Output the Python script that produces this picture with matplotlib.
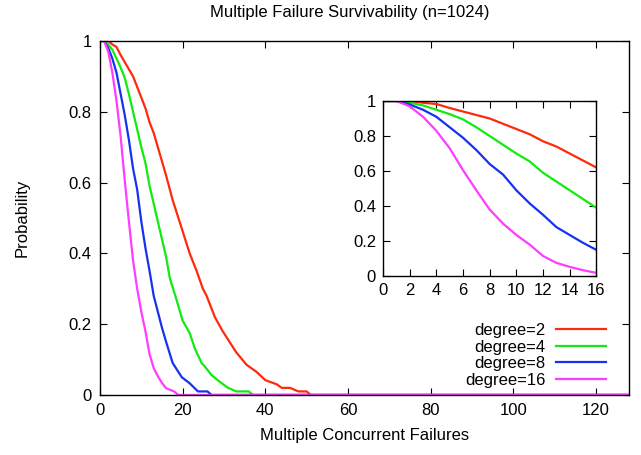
import matplotlib
matplotlib.use("Agg")
import matplotlib.pyplot as plt

plt.rcParams['font.family'] = ['Liberation Sans', 'DejaVu Sans']

# failures (x) and survival probability per degree
x_deg2 = [0, 1, 2, 3, 4, 5, 6, 7, 8, 9, 10, 11, 12, 13, 14, 15, 16,
          17.6, 19.8, 21.7, 23.4, 24.9, 25.8, 27.8, 29.7, 33, 35.5, 37.9,
          40, 41.6, 42.8, 44, 46, 48, 50, 51, 128]
p_deg2 = [1, 1, 1, 0.99, 0.983, 0.96, 0.94, 0.92, 0.90, 0.87, 0.84, 0.81,
          0.77, 0.74, 0.70, 0.66, 0.62,
          0.55, 0.47, 0.40, 0.35, 0.30, 0.28, 0.22, 0.18, 0.12, 0.085, 0.065,
          0.042, 0.035, 0.03, 0.02, 0.02, 0.01, 0.01, 0, 0]

x_deg4 = [0, 1, 2, 3, 4, 5, 6, 7, 8, 9, 10, 11, 12, 13, 14, 15, 16,
          16.9, 18.5, 20, 21.7, 23, 24.6, 25.4, 27, 29, 31, 33, 36, 37, 128]
p_deg4 = [1, 1, 0.99, 0.975, 0.95, 0.925, 0.895, 0.85, 0.80, 0.75, 0.70,
          0.655, 0.59, 0.54, 0.49, 0.44, 0.39,
          0.33, 0.27, 0.21, 0.175, 0.13, 0.09, 0.08, 0.056, 0.037, 0.02,
          0.01, 0.01, 0, 0]

x_deg8 = [0, 1, 2, 3, 4, 5, 6, 7, 8, 9, 10, 11, 12, 13, 14, 15, 16,
          17.6, 19.8, 21.7, 23.7, 26, 27, 128]
p_deg8 = [1, 1, 0.98, 0.95, 0.91, 0.85, 0.79, 0.72, 0.64, 0.58, 0.49, 0.415,
          0.35, 0.28, 0.235, 0.19, 0.15,
          0.09, 0.05, 0.033, 0.01, 0.01, 0, 0]

x_deg16 = [0, 1, 2, 3, 4, 5, 6, 7, 8, 9, 10, 11, 12, 13, 14, 15, 16,
           17.9, 19, 128]
p_deg16 = [1, 1, 0.97, 0.91, 0.83, 0.73, 0.605, 0.49, 0.38, 0.30, 0.235,
           0.18, 0.115, 0.076, 0.053, 0.034, 0.019,
           0.01, 0, 0]

series = [
    ('degree=2', x_deg2, p_deg2, '#ff2a0a'),
    ('degree=4', x_deg4, p_deg4, '#10ec10'),
    ('degree=8', x_deg8, p_deg8, '#1432f0'),
    ('degree=16', x_deg16, p_deg16, '#ff3cff'),
]

FS = 12

fig = plt.figure(figsize=(6.41, 4.55), dpi=100)
ax = fig.add_axes([0.156, 0.132, 0.825, 0.778])

for label, xs, ps, color in series:
    ax.plot(xs, ps, color=color, lw=1.6, label=label)

ax.set_xlim(0, 128)
ax.set_ylim(0, 1)
ax.set_xticks(range(0, 121, 20))
ax.set_yticks([0, 0.2, 0.4, 0.6, 0.8, 1])
ax.set_yticklabels(['0', '0.2', '0.4', '0.6', '0.8', '1'])
ax.tick_params(direction='in', top=True, right=True, labelsize=FS, length=5, pad=6)
ax.set_xlabel('Multiple Concurrent Failures', fontsize=FS, labelpad=7)
ax.set_ylabel('Probability', fontsize=FS, labelpad=28)
ax.set_title('Multiple Failure Survivability (n=1024)', fontsize=FS, pad=17, x=0.473)
for s in ax.spines.values():
    s.set_linewidth(1.0)

ax.legend(loc='lower right', bbox_to_anchor=(0.957, 0.02), frameon=False,
          markerfirst=False, fontsize=FS, handlelength=3.0, handletextpad=0.65,
          labelspacing=0.1, borderpad=0, borderaxespad=0)
for t in ax.get_legend().get_texts():
    t.set_ha('right')

# inset zoom on the first 16 failures
ins = fig.add_axes([0.5975, 0.393, 0.333, 0.385])
for label, xs, ps, color in series:
    ins.plot(xs, ps, color=color, lw=1.6)
ins.set_xlim(0, 16)
ins.set_ylim(0, 1)
ins.set_xticks(range(0, 17, 2))
ins.set_yticks([0, 0.2, 0.4, 0.6, 0.8, 1])
ins.set_yticklabels(['0', '0.2', '0.4', '0.6', '0.8', '1'])
ins.tick_params(direction='in', top=True, right=True, labelsize=FS, length=5, pad=5)
for s in ins.spines.values():
    s.set_linewidth(1.0)

fig.savefig('out.png', dpi=100)
